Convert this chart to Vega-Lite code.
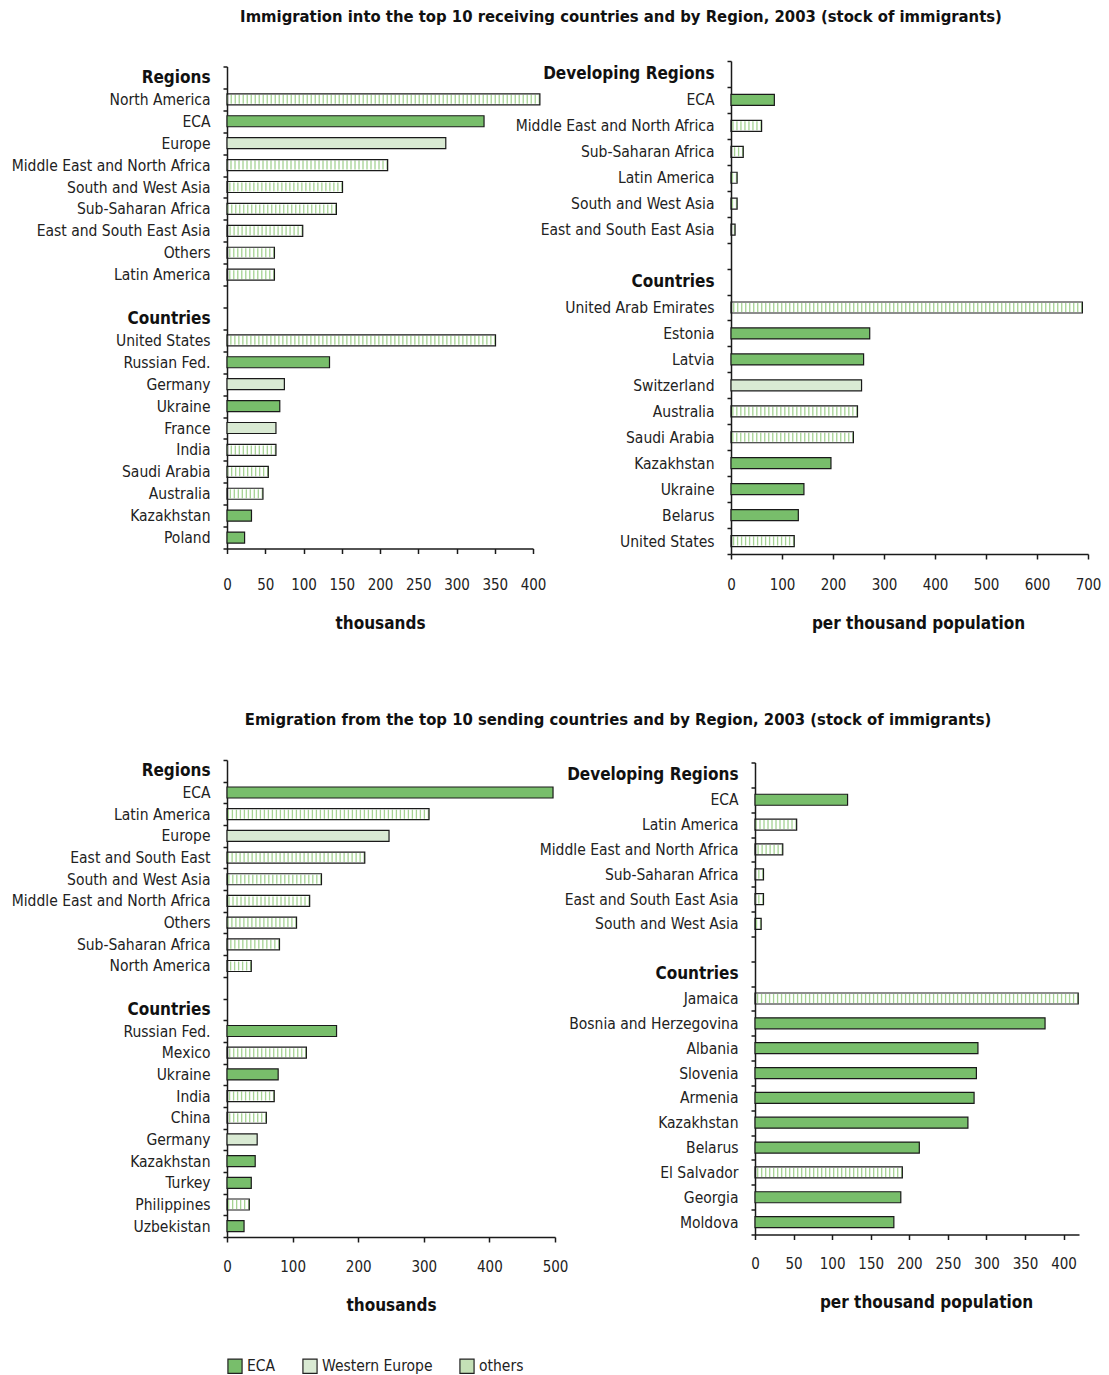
{
  "$schema": "https://vega.github.io/schema/vega-lite/v6.json",
  "padding": {"left": 11, "top": 8, "right": 5, "bottom": 5},
  "config": {
    "font": "DejaVu Sans Condensed, sans-serif",
    "view": {"stroke": null},
    "title": {"fontSize": 16.5, "fontWeight": "bold", "color": "#111111", "anchor": "middle", "frame": "group"},
    "axis": {
      "grid": false,
      "domainColor": "#1a1a1a",
      "domainWidth": 1.5,
      "tickColor": "#1a1a1a",
      "tickWidth": 1.5,
      "labelColor": "#222222",
      "labelFontSize": 15,
      "titleFontSize": 17,
      "titleFontWeight": "bold",
      "titleColor": "#111111",
      "labelLimit": 400
    },
    "axisX": {"tickSize": 5, "labelPadding": 17, "titlePadding": 23, "labelFlush": false},
    "axisY": {
      "tickSize": 4,
      "labelPadding": 13,
      "tickBand": "extent",
      "labelFontWeight": {"condition": {"test": "datum.label === 'Regions' || datum.label === 'Countries' || datum.label === 'Developing Regions'", "value": "bold"}, "value": "normal"},
      "labelFontSize": {"condition": {"test": "datum.label === 'Regions' || datum.label === 'Countries' || datum.label === 'Developing Regions'", "value": 17}, "value": 15.5},
      "labelColor": {"condition": {"test": "datum.label === 'Regions' || datum.label === 'Countries' || datum.label === 'Developing Regions'", "value": "#111111"}, "value": "#222222"}
    },
    "legend": {
      "orient": "bottom",
      "direction": "horizontal",
      "symbolType": "square",
      "symbolSize": 200,
      "symbolStrokeColor": "#222222",
      "symbolStrokeWidth": 1.2,
      "labelFontSize": 15.5,
      "labelColor": "#222222",
      "columnPadding": 24,
      "offset": 45
    }
  },
  "data": {
    "values": [
      {"panel": "TL", "label": "North America", "value": 409, "cat": "others"},
      {"panel": "TL", "label": "ECA", "value": 336, "cat": "ECA"},
      {"panel": "TL", "label": "Europe", "value": 286, "cat": "Western Europe"},
      {"panel": "TL", "label": "Middle East and North Africa", "value": 210, "cat": "others"},
      {"panel": "TL", "label": "South and West Asia", "value": 151, "cat": "others"},
      {"panel": "TL", "label": "Sub-Saharan Africa", "value": 143, "cat": "others"},
      {"panel": "TL", "label": "East and South East Asia", "value": 99, "cat": "others"},
      {"panel": "TL", "label": "Others", "value": 62, "cat": "others"},
      {"panel": "TL", "label": "Latin America", "value": 62, "cat": "others"},
      {"panel": "TL", "label": "United States", "value": 351, "cat": "others"},
      {"panel": "TL", "label": "Russian Fed.", "value": 134, "cat": "ECA"},
      {"panel": "TL", "label": "Germany", "value": 75, "cat": "Western Europe"},
      {"panel": "TL", "label": "Ukraine", "value": 69, "cat": "ECA"},
      {"panel": "TL", "label": "France", "value": 64, "cat": "Western Europe"},
      {"panel": "TL", "label": "India", "value": 64, "cat": "others"},
      {"panel": "TL", "label": "Saudi Arabia", "value": 54, "cat": "others"},
      {"panel": "TL", "label": "Australia", "value": 47, "cat": "others"},
      {"panel": "TL", "label": "Kazakhstan", "value": 32, "cat": "ECA"},
      {"panel": "TL", "label": "Poland", "value": 23, "cat": "ECA"},

      {"panel": "TR", "label": "ECA", "value": 85, "cat": "ECA"},
      {"panel": "TR", "label": "Middle East and North Africa", "value": 60, "cat": "others"},
      {"panel": "TR", "label": "Sub-Saharan Africa", "value": 24, "cat": "others"},
      {"panel": "TR", "label": "Latin America", "value": 12, "cat": "others"},
      {"panel": "TR", "label": "South and West Asia", "value": 12, "cat": "others"},
      {"panel": "TR", "label": "East and South East Asia", "value": 8, "cat": "others"},
      {"panel": "TR", "label": "United Arab Emirates", "value": 689, "cat": "others"},
      {"panel": "TR", "label": "Estonia", "value": 272, "cat": "ECA"},
      {"panel": "TR", "label": "Latvia", "value": 260, "cat": "ECA"},
      {"panel": "TR", "label": "Switzerland", "value": 256, "cat": "Western Europe"},
      {"panel": "TR", "label": "Australia", "value": 248, "cat": "others"},
      {"panel": "TR", "label": "Saudi Arabia", "value": 240, "cat": "others"},
      {"panel": "TR", "label": "Kazakhstan", "value": 196, "cat": "ECA"},
      {"panel": "TR", "label": "Ukraine", "value": 143, "cat": "ECA"},
      {"panel": "TR", "label": "Belarus", "value": 132, "cat": "ECA"},
      {"panel": "TR", "label": "United States", "value": 124, "cat": "others"},

      {"panel": "BL", "label": "ECA", "value": 497, "cat": "ECA"},
      {"panel": "BL", "label": "Latin America", "value": 308, "cat": "others"},
      {"panel": "BL", "label": "Europe", "value": 247, "cat": "Western Europe"},
      {"panel": "BL", "label": "East and South East", "value": 210, "cat": "others"},
      {"panel": "BL", "label": "South and West Asia", "value": 144, "cat": "others"},
      {"panel": "BL", "label": "Middle East and North Africa", "value": 126, "cat": "others"},
      {"panel": "BL", "label": "Others", "value": 106, "cat": "others"},
      {"panel": "BL", "label": "Sub-Saharan Africa", "value": 80, "cat": "others"},
      {"panel": "BL", "label": "North America", "value": 37, "cat": "others"},
      {"panel": "BL", "label": "Russian Fed.", "value": 167, "cat": "ECA"},
      {"panel": "BL", "label": "Mexico", "value": 121, "cat": "others"},
      {"panel": "BL", "label": "Ukraine", "value": 78, "cat": "ECA"},
      {"panel": "BL", "label": "India", "value": 72, "cat": "others"},
      {"panel": "BL", "label": "China", "value": 60, "cat": "others"},
      {"panel": "BL", "label": "Germany", "value": 46, "cat": "Western Europe"},
      {"panel": "BL", "label": "Kazakhstan", "value": 43, "cat": "ECA"},
      {"panel": "BL", "label": "Turkey", "value": 37, "cat": "ECA"},
      {"panel": "BL", "label": "Philippines", "value": 34, "cat": "others"},
      {"panel": "BL", "label": "Uzbekistan", "value": 26, "cat": "ECA"},

      {"panel": "BR", "label": "ECA", "value": 120, "cat": "ECA"},
      {"panel": "BR", "label": "Latin America", "value": 54, "cat": "others"},
      {"panel": "BR", "label": "Middle East and North Africa", "value": 36, "cat": "others"},
      {"panel": "BR", "label": "Sub-Saharan Africa", "value": 11, "cat": "others"},
      {"panel": "BR", "label": "East and South East Asia", "value": 11, "cat": "others"},
      {"panel": "BR", "label": "South and West Asia", "value": 8, "cat": "others"},
      {"panel": "BR", "label": "Jamaica", "value": 419, "cat": "others"},
      {"panel": "BR", "label": "Bosnia and Herzegovina", "value": 376, "cat": "ECA"},
      {"panel": "BR", "label": "Albania", "value": 289, "cat": "ECA"},
      {"panel": "BR", "label": "Slovenia", "value": 287, "cat": "ECA"},
      {"panel": "BR", "label": "Armenia", "value": 284, "cat": "ECA"},
      {"panel": "BR", "label": "Kazakhstan", "value": 276, "cat": "ECA"},
      {"panel": "BR", "label": "Belarus", "value": 213, "cat": "ECA"},
      {"panel": "BR", "label": "El Salvador", "value": 191, "cat": "others"},
      {"panel": "BR", "label": "Georgia", "value": 189, "cat": "ECA"},
      {"panel": "BR", "label": "Moldova", "value": 180, "cat": "ECA"}
    ]
  },
  "spacing": 79,
  "resolve": {"scale": {"fill": "shared"}},
  "vconcat": [
    {
      "title": {"text": "Immigration into the top 10 receiving countries and by Region, 2003 (stock of immigrants)", "offset": 29, "dx": 394},
      "spacing": 198,
      "bounds": "flush",
      "center": true,
      "hconcat": [
        {
          "width": 306,
          "height": 482,
          "transform": [{"filter": "datum.panel === 'TL'"}],
          "encoding": {
            "y": {"field": "label", "type": "nominal", "title": null,
              "scale": {"domain": ["Regions", "North America", "ECA", "Europe", "Middle East and North Africa", "South and West Asia", "Sub-Saharan Africa", "East and South East Asia", "Others", "Latin America", " ", "Countries", "United States", "Russian Fed.", "Germany", "Ukraine", "France", "India", "Saudi Arabia", "Australia", "Kazakhstan", "Poland"], "paddingInner": 0, "paddingOuter": 0}},
            "x": {"field": "value", "type": "quantitative", "title": "thousands",
              "scale": {"domain": [0, 400], "nice": false},
              "axis": {"values": [0, 50, 100, 150, 200, 250, 300, 350, 400], "labelPadding": 24}}
          },
          "layer": [
            {
              "transform": [{"filter": "datum.cat === 'others'"}],
              "mark": {"type": "rule", "stroke": "#a5d393", "strokeWidth": 9, "strokeDash": [1.3, 2.7]},
              "encoding": {"x2": {"datum": 0}}
            },
            {
              "mark": {"type": "bar", "size": 11, "stroke": "#1a1a1a", "strokeWidth": 1.2},
              "encoding": {
                "fill": {"field": "cat", "type": "nominal", "legend": {"title": null},
                  "scale": {"domain": ["ECA", "Western Europe", "others"], "range": ["#78be6b", "#d9ead3", "#c4e0b6"]},
                  "condition": {"test": "datum.cat === 'others'", "value": "transparent"}}
              }
            }
          ]
        },
        {
          "width": 357,
          "height": 493,
          "transform": [{"filter": "datum.panel === 'TR'"}],
          "encoding": {
            "y": {"field": "label", "type": "nominal", "title": null,
              "scale": {"domain": ["Developing Regions", "ECA", "Middle East and North Africa", "Sub-Saharan Africa", "Latin America", "South and West Asia", "East and South East Asia", " ", "Countries", "United Arab Emirates", "Estonia", "Latvia", "Switzerland", "Australia", "Saudi Arabia", "Kazakhstan", "Ukraine", "Belarus", "United States"], "paddingInner": 0, "paddingOuter": 0}},
            "x": {"field": "value", "type": "quantitative", "title": "per thousand population",
              "scale": {"domain": [0, 700], "nice": false},
              "axis": {"values": [0, 100, 200, 300, 400, 500, 600, 700], "labelPadding": 18, "titleX": 187}}
          },
          "layer": [
            {
              "transform": [{"filter": "datum.cat === 'others'"}],
              "mark": {"type": "rule", "stroke": "#a5d393", "strokeWidth": 9, "strokeDash": [1.3, 2.7]},
              "encoding": {"x2": {"datum": 0}}
            },
            {
              "mark": {"type": "bar", "size": 11, "stroke": "#1a1a1a", "strokeWidth": 1.2},
              "encoding": {
                "fill": {"field": "cat", "type": "nominal", "legend": {"title": null},
                  "scale": {"domain": ["ECA", "Western Europe", "others"], "range": ["#78be6b", "#d9ead3", "#c4e0b6"]},
                  "condition": {"test": "datum.cat === 'others'", "value": "transparent"}}
              }
            }
          ]
        }
      ]
    },
    {
      "title": {"text": "Emigration from the top 10 sending countries and by Region, 2003 (stock of immigrants)", "offset": 25, "dx": 391},
      "spacing": 200,
      "bounds": "flush",
      "center": true,
      "hconcat": [
        {
          "width": 328,
          "height": 477,
          "transform": [{"filter": "datum.panel === 'BL'"}],
          "encoding": {
            "y": {"field": "label", "type": "nominal", "title": null,
              "scale": {"domain": ["Regions", "ECA", "Latin America", "Europe", "East and South East", "South and West Asia", "Middle East and North Africa", "Others", "Sub-Saharan Africa", "North America", " ", "Countries", "Russian Fed.", "Mexico", "Ukraine", "India", "China", "Germany", "Kazakhstan", "Turkey", "Philippines", "Uzbekistan"], "paddingInner": 0, "paddingOuter": 0}},
            "x": {"field": "value", "type": "quantitative", "title": "thousands",
              "scale": {"domain": [0, 500], "nice": false},
              "axis": {"values": [0, 100, 200, 300, 400, 500]}}
          },
          "layer": [
            {
              "transform": [{"filter": "datum.cat === 'others'"}],
              "mark": {"type": "rule", "stroke": "#a5d393", "strokeWidth": 9, "strokeDash": [1.3, 2.7]},
              "encoding": {"x2": {"datum": 0}}
            },
            {
              "mark": {"type": "bar", "size": 11, "stroke": "#1a1a1a", "strokeWidth": 1.2},
              "encoding": {
                "fill": {"field": "cat", "type": "nominal", "legend": {"title": null},
                  "scale": {"domain": ["ECA", "Western Europe", "others"], "range": ["#78be6b", "#d9ead3", "#c4e0b6"]},
                  "condition": {"test": "datum.cat === 'others'", "value": "transparent"}}
              }
            }
          ]
        },
        {
          "width": 324,
          "height": 472,
          "transform": [{"filter": "datum.panel === 'BR'"}],
          "encoding": {
            "y": {"field": "label", "type": "nominal", "title": null,
              "scale": {"domain": ["Developing Regions", "ECA", "Latin America", "Middle East and North Africa", "Sub-Saharan Africa", "East and South East Asia", "South and West Asia", " ", "Countries", "Jamaica", "Bosnia and Herzegovina", "Albania", "Slovenia", "Armenia", "Kazakhstan", "Belarus", "El Salvador", "Georgia", "Moldova"], "paddingInner": 0, "paddingOuter": 0}},
            "x": {"field": "value", "type": "quantitative", "title": "per thousand population",
              "scale": {"domain": [0, 420], "nice": false},
              "axis": {"values": [0, 50, 100, 150, 200, 250, 300, 350, 400], "titleX": 171}}
          },
          "layer": [
            {
              "transform": [{"filter": "datum.cat === 'others'"}],
              "mark": {"type": "rule", "stroke": "#a5d393", "strokeWidth": 9, "strokeDash": [1.3, 2.7]},
              "encoding": {"x2": {"datum": 0}}
            },
            {
              "mark": {"type": "bar", "size": 11, "stroke": "#1a1a1a", "strokeWidth": 1.2},
              "encoding": {
                "fill": {"field": "cat", "type": "nominal", "legend": {"title": null},
                  "scale": {"domain": ["ECA", "Western Europe", "others"], "range": ["#78be6b", "#d9ead3", "#c4e0b6"]},
                  "condition": {"test": "datum.cat === 'others'", "value": "transparent"}}
              }
            }
          ]
        }
      ]
    }
  ]
}
